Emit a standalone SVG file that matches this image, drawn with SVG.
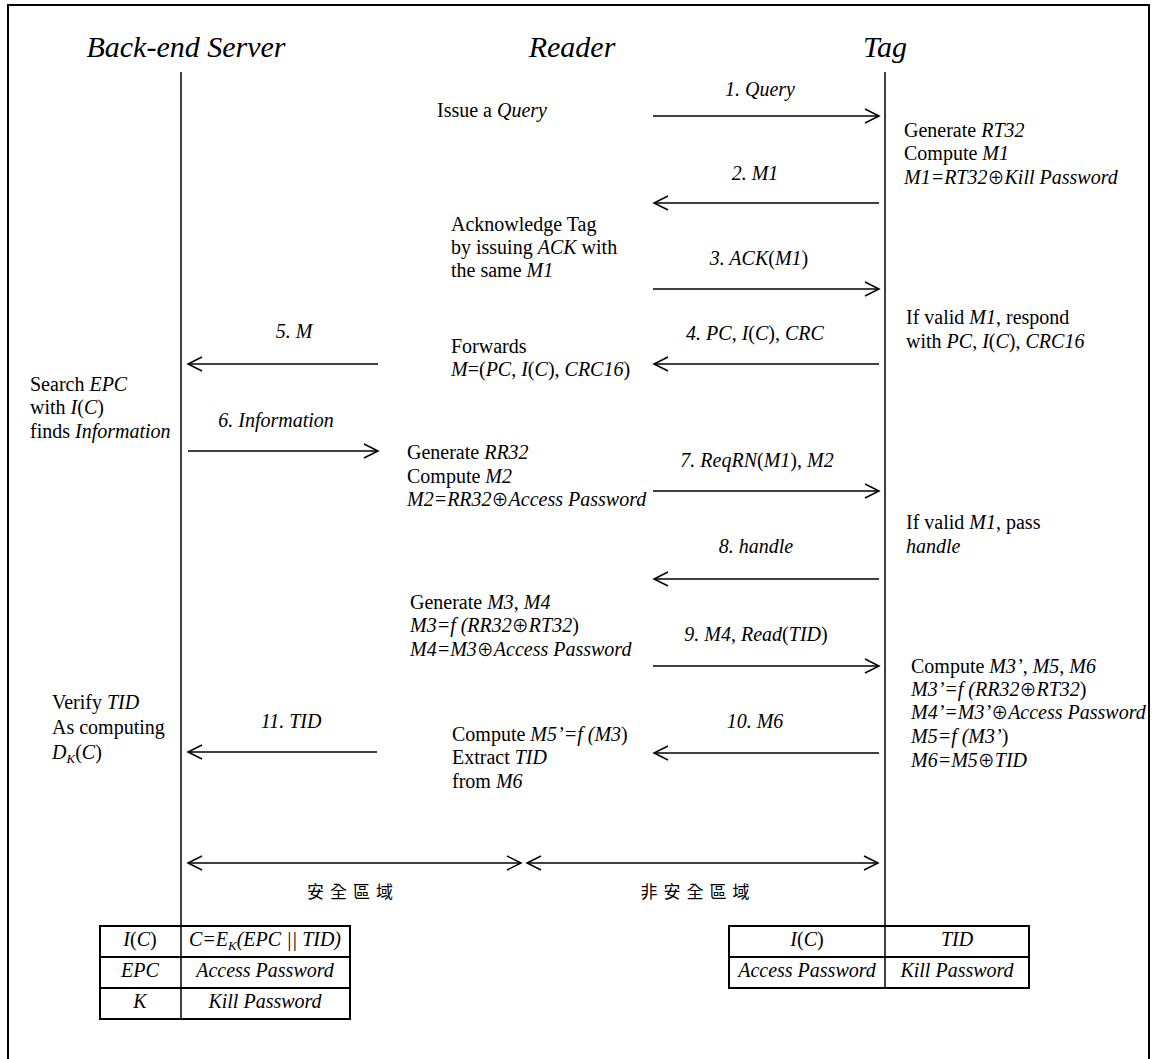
<svg xmlns="http://www.w3.org/2000/svg" width="1156" height="1059" viewBox="0 0 1156 1059">
<defs>
<style>
text{font-family:"Liberation Serif","Times New Roman",serif;font-size:20px;fill:#000}
.t{font-size:30px;font-style:italic;text-anchor:middle}
.i{font-style:italic}
.x{font-style:normal;font-family:"Noto Sans CJK JP","DejaVu Sans",sans-serif;font-size:17px}
.c{text-anchor:middle}
.l{stroke:#000;stroke-width:1.5;fill:none}
.a{stroke:#000;stroke-width:1.5;fill:none;marker-end:url(#ah)}
.d{stroke:#000;stroke-width:1.5;fill:none;marker-start:url(#ah);marker-end:url(#ah)}
.zh{font-family:"Noto Sans CJK TC","Noto Sans CJK SC",sans-serif;font-size:17px;letter-spacing:6px;text-anchor:middle}
.tb{stroke:#000;stroke-width:2;fill:none}
</style>
<marker id="ah" markerWidth="18" markerHeight="18" refX="15" refY="8" orient="auto-start-reverse" markerUnits="userSpaceOnUse">
<path d="M1,1 L15,8 L1,15" fill="none" stroke="#000" stroke-width="1.5"/>
</marker>
</defs>
<rect x="8" y="5" width="1141" height="1070" fill="none" stroke="#000" stroke-width="2"/>

<g id="server">
<text class="t" x="186" y="57">Back-end Server</text>
<line class="l" x1="181" y1="72" x2="181" y2="926"/>
<text x="30" y="391">Search <tspan class="i">EPC</tspan></text>
<text x="30" y="414">with <tspan class="i">I</tspan>(<tspan class="i">C</tspan>)</text>
<text x="30" y="438">finds <tspan class="i">Information</tspan></text>
<text x="52" y="709">Verify <tspan class="i">TID</tspan></text>
<text x="52" y="734">As computing</text>
<text x="52" y="759"><tspan class="i">D</tspan><tspan class="i" font-size="13" dy="4">K</tspan><tspan dy="-4">(</tspan><tspan class="i">C</tspan>)</text>
</g>

<g id="reader">
<text class="t" x="572" y="57">Reader</text>
<text x="437" y="117">Issue a <tspan class="i">Query</tspan></text>
<text x="451" y="231">Acknowledge Tag</text>
<text x="451" y="254">by issuing <tspan class="i">ACK</tspan> with</text>
<text x="451" y="277">the same <tspan class="i">M1</tspan></text>
<text x="451" y="353">Forwards</text>
<text x="451" y="376"><tspan class="i">M</tspan>=(<tspan class="i">PC</tspan>, <tspan class="i">I</tspan>(<tspan class="i">C</tspan>), <tspan class="i">CRC16</tspan>)</text>
<text x="407" y="459">Generate <tspan class="i">RR32</tspan></text>
<text x="407" y="483">Compute <tspan class="i">M2</tspan></text>
<text x="407" y="506" class="i">M2=RR32<tspan class="x">⊕</tspan>Access Password</text>
<text x="410" y="609">Generate <tspan class="i">M3</tspan>, <tspan class="i">M4</tspan></text>
<text x="410" y="632"><tspan class="i">M3=f (RR32<tspan class="x">⊕</tspan>RT32</tspan>)</text>
<text x="410" y="656" class="i">M4=M3<tspan class="x">⊕</tspan>Access Password</text>
<text x="452" y="741">Compute <tspan class="i">M5’=f (M3</tspan>)</text>
<text x="452" y="764">Extract <tspan class="i">TID</tspan></text>
<text x="452" y="788">from <tspan class="i">M6</tspan></text>
</g>

<g id="tag">
<text class="t" x="885" y="57">Tag</text>
<line class="l" x1="885" y1="72" x2="885" y2="926"/>
<text x="904" y="137">Generate <tspan class="i">RT32</tspan></text>
<text x="904" y="160">Compute <tspan class="i">M1</tspan></text>
<text x="904" y="184" class="i">M1=RT32<tspan class="x">⊕</tspan>Kill Password</text>
<text x="906" y="324">If valid <tspan class="i">M1</tspan>, respond</text>
<text x="906" y="348">with <tspan class="i">PC</tspan>, <tspan class="i">I</tspan>(<tspan class="i">C</tspan>), <tspan class="i">CRC16</tspan></text>
<text x="906" y="529">If valid <tspan class="i">M1</tspan>, pass</text>
<text x="906" y="553" class="i">handle</text>
<text x="911" y="673">Compute <tspan class="i">M3’</tspan>, <tspan class="i">M5</tspan>, <tspan class="i">M6</tspan></text>
<text x="911" y="696"><tspan class="i">M3’=f (RR32<tspan class="x">⊕</tspan>RT32</tspan>)</text>
<text x="911" y="719" class="i">M4’=M3’<tspan class="x">⊕</tspan>Access Password</text>
<text x="911" y="743"><tspan class="i">M5=f (M3’</tspan>)</text>
<text x="911" y="767" class="i">M6=M5<tspan class="x">⊕</tspan>TID</text>
</g>

<g id="connectors">
<line class="a" x1="653" y1="116" x2="879" y2="116"/>
<text class="i c" x="760" y="96">1. Query</text>
<line class="a" x1="879" y1="203" x2="654" y2="203"/>
<text class="i c" x="755" y="180">2. M1</text>
<line class="a" x1="653" y1="289" x2="879" y2="289"/>
<text class="c" x="759" y="265"><tspan class="i">3. ACK</tspan>(<tspan class="i">M1</tspan>)</text>
<line class="a" x1="879" y1="364" x2="654" y2="364"/>
<text class="c" x="755" y="340"><tspan class="i">4. PC</tspan>, <tspan class="i">I</tspan>(<tspan class="i">C</tspan>), <tspan class="i">CRC</tspan></text>
<line class="a" x1="378" y1="364" x2="188" y2="364"/>
<text class="i c" x="294" y="338">5. M</text>
<line class="a" x1="188" y1="451" x2="378" y2="451"/>
<text class="i c" x="276" y="427">6. Information</text>
<line class="a" x1="653" y1="491" x2="879" y2="491"/>
<text class="c" x="757" y="467"><tspan class="i">7. ReqRN</tspan>(<tspan class="i">M1</tspan>), <tspan class="i">M2</tspan></text>
<line class="a" x1="879" y1="579" x2="654" y2="579"/>
<text class="i c" x="756" y="553">8. handle</text>
<line class="a" x1="653" y1="666" x2="879" y2="666"/>
<text class="c" x="756" y="641"><tspan class="i">9. M4</tspan>, <tspan class="i">Read</tspan>(<tspan class="i">TID</tspan>)</text>
<line class="a" x1="879" y1="753" x2="654" y2="753"/>
<text class="i c" x="755" y="728">10. M6</text>
<line class="a" x1="377" y1="752" x2="188" y2="752"/>
<text class="i c" x="291" y="728">11. TID</text>
<line class="d" x1="188" y1="863" x2="521" y2="863"/>
<line class="d" x1="527" y1="863" x2="878" y2="863"/>
<text class="zh" x="353" y="898">安全區域</text>
<text class="zh" x="698" y="898">非安全區域</text>
</g>

<g id="server-table">
<rect class="tb" x="100" y="926" width="250" height="93"/>
<line class="tb" x1="100" y1="957" x2="350" y2="957"/>
<line class="tb" x1="100" y1="988" x2="350" y2="988"/>
<line class="l" x1="181" y1="926" x2="181" y2="1019"/>
<text class="c" x="140" y="946"><tspan class="i">I</tspan>(<tspan class="i">C</tspan>)</text>
<text class="c i" x="265" y="946">C=E<tspan font-size="13" dy="4">K</tspan><tspan dy="-4">(EPC || TID)</tspan></text>
<text class="c i" x="140" y="977">EPC</text>
<text class="c i" x="265" y="977">Access Password</text>
<text class="c i" x="140" y="1008">K</text>
<text class="c i" x="265" y="1008">Kill Password</text>
</g>

<g id="tag-table">
<rect class="tb" x="729" y="926" width="300" height="62"/>
<line class="tb" x1="729" y1="957" x2="1029" y2="957"/>
<line class="l" x1="885" y1="926" x2="885" y2="988"/>
<text class="c" x="807" y="946"><tspan class="i">I</tspan>(<tspan class="i">C</tspan>)</text>
<text class="c i" x="957" y="946">TID</text>
<text class="c i" x="807" y="977">Access Password</text>
<text class="c i" x="957" y="977">Kill Password</text>
</g>
</svg>
